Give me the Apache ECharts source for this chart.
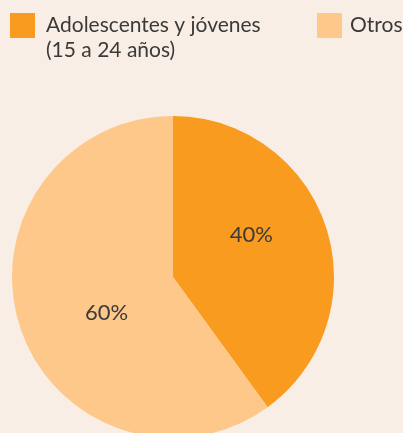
<!DOCTYPE html>
<html>
<head>
<meta charset="utf-8">
<script src="https://cdn.jsdelivr.net/npm/echarts@6/dist/echarts.min.js"></script>
<style>
  html, body { margin: 0; padding: 0; background: #f8eee5; }
  #chart { width: 403px; height: 433px; }
</style>
</head>
<body>
<div id="chart"></div>
<script>
// datos del gráfico
const categories = ['Adolescentes y jóvenes (15 a 24 años)', 'Otros']
const values = [40, 60]
const colors = ['#f99b1e', '#fec88a']
// desplazamiento de las etiquetas dentro de cada porción
const labelShift = [[-1, -16], [13, 10]]

var myChart = echarts.init(document.getElementById('chart'))

let pieData = categories.map((name, i) => ({
  name: name,
  value: values[i],
  itemStyle: { color: colors[i] },
  label: { offset: labelShift[i] }
}))

const legendText = {
  color: '#3a3a3a',
  fontSize: 21,
  fontFamily: 'Lato',
  lineHeight: 25
}

let option = {
  backgroundColor: '#f8eee5',
  animation: false,
  legend: [
    {
      data: [categories[0]],
      left: 10,
      top: -12,
      padding: 0,
      itemWidth: 25,
      itemHeight: 25,
      icon: 'rect',
      // línea vacía delante para que la primera línea quede a la altura del cuadro
      formatter: () => '\nAdolescentes y jóvenes\n(15 a 24 años)',
      textStyle: Object.assign({ padding: [0, 0, 0, 6] }, legendText)
    },
    {
      data: [categories[1]],
      left: 317,
      top: 13,
      padding: 0,
      itemWidth: 25,
      itemHeight: 25,
      icon: 'rect',
      textStyle: Object.assign({ padding: [0, 0, 0, 3] }, legendText)
    }
  ],
  series: [
    {
      type: 'pie',
      center: [173, 277],
      radius: 161,
      startAngle: 90,
      clockwise: true,
      data: pieData,
      label: {
        show: true,
        position: 'inside',
        formatter: '{c}%',
        color: '#3a3a3a',
        fontSize: 22,
        fontFamily: 'Lato'
      },
      labelLine: { show: false },
      emphasis: { disabled: true }
    }
  ]
}

myChart.setOption(option)
</script>
</body>
</html>
